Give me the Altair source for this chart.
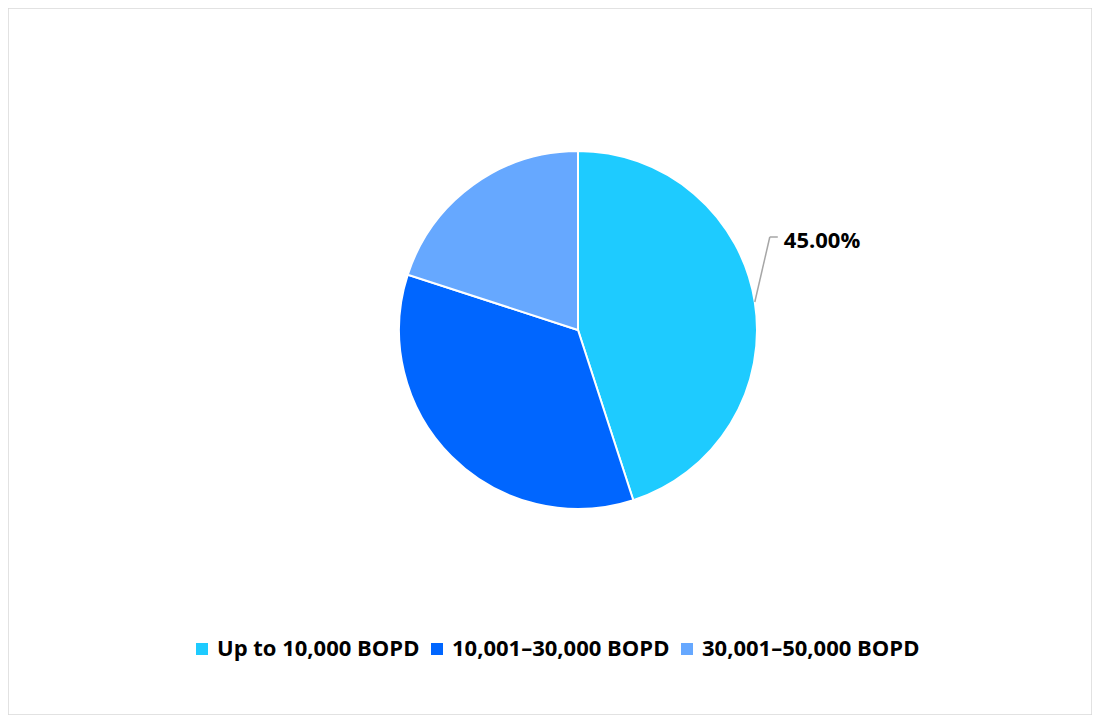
import altair as alt
import pandas as pd

# capacity bands and their share of the total
categories = ["Up to 10,000 BOPD", "10,001–30,000 BOPD", "30,001–50,000 BOPD"]
shares = [45, 35, 20]
colors = ["#1ECBFF", "#0066FF", "#66A8FF"]
labelled = ["Up to 10,000 BOPD"]

df = pd.DataFrame({"category": categories, "share": shares, "order": list(range(len(categories)))})

W, H = 1084, 707
CX, CY, R = 570, 322, 179
FONT = "Open Sans"

color = alt.Color(
    "category:N",
    scale=alt.Scale(domain=categories, range=colors),
    sort=categories,
    legend=alt.Legend(
        title=None,
        orient="none",
        legendX=183,
        legendY=630,
        direction="horizontal",
        symbolType="square",
        symbolSize=144,
        symbolStrokeWidth=0,
        labelFont=FONT,
        labelFontSize=22,
        labelFontWeight="bold",
        labelColor="#000000",
        labelOffset=4,
        columnPadding=6,
        labelLimit=400,
    ),
)

pie = alt.Chart(df).mark_arc(radius=R, stroke="white", strokeWidth=2).encode(
    theta=alt.Theta("share:Q", stack=True),
    color=color,
    order=alt.Order("order:Q"),
    x=alt.value(CX),
    y=alt.value(CY),
)

# leader line geometry derived from the slice's mid angle
geo = alt.Chart(df).transform_joinaggregate(
    total="sum(share)"
).transform_window(
    cum="sum(share)", sort=[alt.SortField("order")], frame=[None, 0]
).transform_calculate(
    mid="(datum.cum - datum.share / 2) / datum.total * 2 * PI",
    x0=f"{CX} + {R} * sin(datum.mid)",
    y0=f"{CY} - {R} * cos(datum.mid)",
    x1="datum.x0 + 15",
    y1="datum.y0 - 65",
    x2="datum.x1 + 8",
    pct="format(datum.share / datum.total, '.2%')",
).transform_filter(
    alt.FieldOneOfPredicate(field="category", oneOf=labelled)
)

leader_a = geo.mark_rule(color="#A6A6A6", strokeWidth=1.5).encode(
    x=alt.X("x0:Q", scale=None),
    y=alt.Y("y0:Q", scale=None),
    x2="x1:Q",
    y2="y1:Q",
)
leader_b = geo.mark_rule(color="#A6A6A6", strokeWidth=1.5).encode(
    x=alt.X("x1:Q", scale=None),
    y=alt.Y("y1:Q", scale=None),
    x2="x2:Q",
)
label = geo.mark_text(
    align="left", baseline="middle", dx=6, dy=4,
    font=FONT, fontSize=22, fontWeight="bold", color="#000000",
).encode(
    x=alt.X("x2:Q", scale=None),
    y=alt.Y("y1:Q", scale=None),
    text="pct:N",
)

chart = alt.layer(pie, leader_a, leader_b, label).properties(
    width=W, height=H, padding=0, autosize=alt.AutoSizeParams(type="none"),
    background="white",
).configure_view(stroke="#D9D9D9", strokeWidth=1.5)

chart.save("out.html", embed_options={"renderer": "svg", "actions": False})
